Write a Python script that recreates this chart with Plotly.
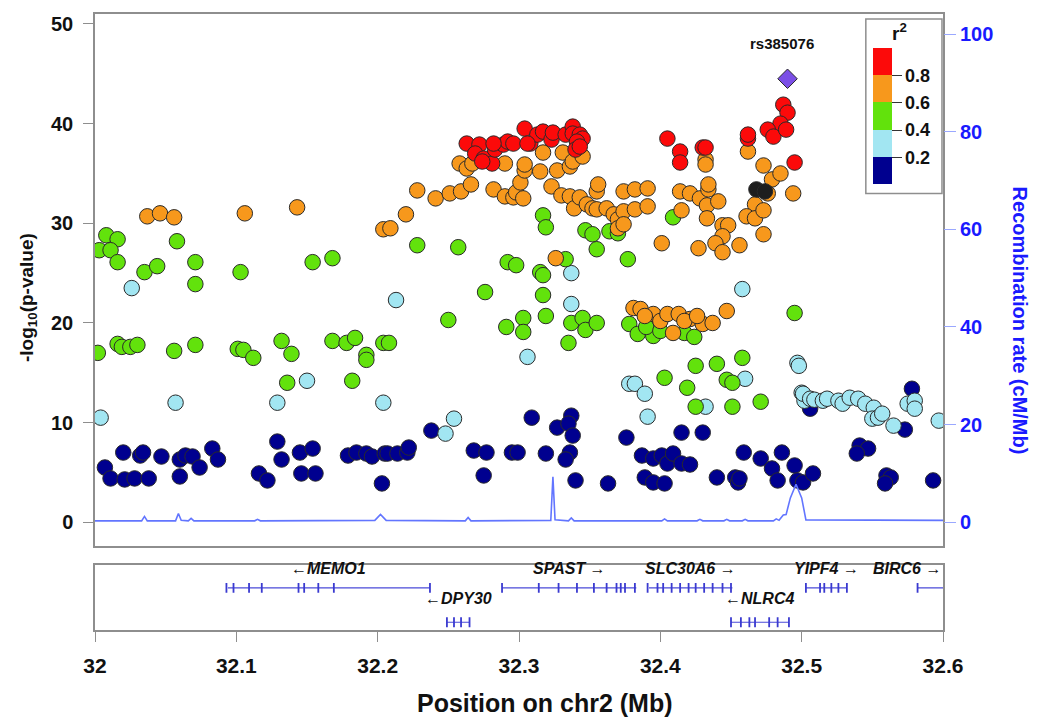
import plotly.graph_objects as go

# ---------------- data ----------------
navy_pos = [32.007, 32.011, 32.020, 32.021, 32.028, 32.032, 32.034, 32.038, 32.047, 32.060,
            32.060, 32.064, 32.069, 32.074, 32.083, 32.087, 32.116, 32.122, 32.129, 32.132,
            32.145, 32.154, 32.146, 32.156, 32.179, 32.185, 32.192, 32.196, 32.203, 32.205,
            32.207, 32.214, 32.221, 32.222, 32.238, 32.268, 32.277, 32.275, 32.295, 32.299,
            32.309, 32.319, 32.327, 32.337, 32.335, 32.338, 32.336, 32.333, 32.340, 32.363,
            32.376, 32.387, 32.395, 32.401, 32.405, 32.409, 32.415, 32.421, 32.389, 32.395,
            32.403, 32.415, 32.430, 32.440, 32.453, 32.455, 32.456, 32.459, 32.471, 32.479,
            32.483, 32.486, 32.495, 32.497, 32.501, 32.508, 32.506, 32.541, 32.547, 32.539,
            32.560, 32.563, 32.559, 32.578, 32.573, 32.593]
navy_logp = [5.5, 4.4, 7.0, 4.3, 4.4, 6.7, 7.0, 4.4, 6.6, 6.3,
             4.6, 6.7, 6.6, 5.5, 7.4, 6.3, 4.9, 4.2, 8.1, 6.3,
             7.0, 7.4, 4.9, 4.9, 6.7, 7.0, 6.9, 6.6, 3.9, 6.9,
             6.9, 6.9, 7.0, 7.5, 9.2, 7.2, 7.0, 4.7, 7.0, 7.0,
             10.5, 6.9, 9.5, 10.7, 9.9, 8.7, 7.0, 6.3, 4.2, 3.9,
             8.5, 6.7, 6.4, 6.7, 5.9, 6.9, 5.9, 5.8, 4.5, 4.0,
             3.9, 9.0, 9.0, 4.5, 4.5, 4.0, 4.4, 7.0, 6.4, 5.4,
             4.2, 7.0, 5.7, 4.2, 4.0, 4.9, 11.4, 7.7, 7.4, 6.9,
             4.7, 4.5, 3.9, 13.4, 9.3, 4.2]

lblue_pos = [32.026, 32.057, 32.004, 32.129, 32.150, 32.204, 32.213, 32.337, 32.337, 32.306,
             32.254, 32.248, 32.378, 32.458, 32.382, 32.389, 32.391, 32.432, 32.460, 32.497,
             32.498, 32.500, 32.502, 32.501, 32.506, 32.509, 32.515, 32.518, 32.526, 32.529,
             32.534, 32.540, 32.545, 32.551, 32.550, 32.554, 32.557, 32.565, 32.575, 32.580,
             32.580, 32.597]
lblue_logp = [23.5, 12.0, 10.5, 12.0, 14.2, 12.0, 22.3, 25.0, 21.9, 16.6,
              10.4, 8.9, 13.9, 23.4, 13.9, 12.9, 10.6, 11.6, 14.4, 16.0,
              15.7, 13.0, 12.2, 12.9, 12.4, 12.3, 12.2, 12.4, 12.2, 11.9,
              12.5, 12.4, 11.9, 11.5, 10.4, 10.5, 10.9, 9.7, 11.9, 12.2,
              11.4, 10.2]

green_pos = [32.008, 32.016, 32.003, 32.011, 32.016, 32.035, 32.044, 32.058, 32.071, 32.071,
             32.103, 32.154, 32.168, 32.002, 32.016, 32.019, 32.025, 32.030, 32.056, 32.071,
             32.101, 32.105, 32.112, 32.132, 32.139, 32.136, 32.168, 32.178, 32.184, 32.192,
             32.192, 32.182, 32.204, 32.228, 32.257, 32.317, 32.319, 32.292, 32.298, 32.315,
             32.317, 32.333, 32.276, 32.317, 32.347, 32.352, 32.355, 32.364, 32.370, 32.377,
             32.250, 32.208, 32.291, 32.303, 32.303, 32.319, 32.337, 32.345, 32.347, 32.355,
             32.335, 32.378, 32.409, 32.495, 32.384, 32.395, 32.417, 32.424, 32.425, 32.440,
             32.458, 32.403, 32.419, 32.447, 32.451, 32.425, 32.451, 32.471, 32.390, 32.400]
green_logp = [28.8, 28.4, 27.3, 27.3, 26.1, 25.1, 25.7, 28.2, 26.1, 23.9,
              25.1, 26.1, 26.5, 17.0, 17.9, 17.6, 17.6, 17.8, 17.2, 17.8,
              17.4, 17.3, 16.5, 18.2, 16.9, 14.0, 18.2, 18.0, 18.5, 16.8,
              16.3, 14.2, 18.0, 27.8, 27.6, 30.8, 29.6, 26.1, 25.8, 25.1,
              24.8, 26.4, 23.1, 22.8, 29.3, 28.9, 27.4, 29.2, 29.0, 26.4,
              20.3, 18.0, 19.6, 20.5, 19.1, 20.7, 20.0, 20.5, 19.3, 20.0,
              18.0, 19.9, 30.6, 21.0, 18.9, 18.7, 19.0, 18.6, 15.7, 15.9,
              16.5, 14.5, 13.5, 14.3, 14.0, 11.6, 11.6, 12.1, 19.6, 19.2]

orange_pos = [32.037, 32.046, 32.056, 32.106, 32.143, 32.204, 32.209, 32.220, 32.228, 32.241,
              32.251, 32.259, 32.266, 32.282, 32.290, 32.296, 32.298, 32.303, 32.301, 32.304,
              32.304, 32.258, 32.263, 32.267, 32.290, 32.315, 32.317, 32.323, 32.327, 32.331,
              32.330, 32.336, 32.339, 32.343, 32.348, 32.352, 32.355, 32.356, 32.336, 32.338,
              32.345, 32.355, 32.362, 32.367, 32.370, 32.374, 32.374, 32.370, 32.326, 32.382,
              32.391, 32.382, 32.391, 32.374, 32.415, 32.414, 32.421, 32.428, 32.434, 32.434,
              32.433, 32.441, 32.433, 32.401, 32.427, 32.444, 32.448, 32.444, 32.439, 32.444,
              32.456, 32.432, 32.432, 32.462, 32.473, 32.479, 32.485, 32.476, 32.467, 32.461,
              32.467, 32.473, 32.473, 32.494, 32.381, 32.386, 32.395, 32.400, 32.405, 32.409,
              32.413, 32.421, 32.430, 32.437, 32.447, 32.389, 32.417, 32.426]
orange_logp = [30.7, 31.0, 30.6, 31.0, 31.6, 29.4, 29.5, 30.9, 33.3, 32.5,
               33.0, 33.2, 33.9, 33.4, 32.7, 32.6, 33.1, 32.5, 34.1, 35.3,
               35.9, 36.0, 35.5, 36.0, 36.0, 35.2, 37.1, 33.7, 35.3, 37.1,
               32.8, 32.7, 31.5, 32.6, 31.9, 31.5, 33.2, 33.9, 35.7, 36.2,
               36.7, 31.4, 31.5, 30.9, 30.4, 31.2, 33.2, 29.5, 26.5, 33.4,
               33.5, 31.4, 31.7, 29.9, 31.3, 33.2, 33.0, 32.5, 33.4, 33.9,
               31.8, 32.2, 30.5, 28.0, 27.5, 29.8, 29.8, 28.7, 28.0, 27.1,
               27.8, 36.4, 35.9, 37.2, 35.8, 34.4, 35.0, 33.0, 31.9, 30.7,
               30.5, 31.3, 28.9, 33.0, 21.5, 21.4, 20.9, 20.2, 20.9, 19.0,
               20.9, 20.4, 19.9, 20.0, 21.2, 20.7, 20.2, 20.7]

red_pos = [32.263, 32.272, 32.269, 32.275, 32.281, 32.274, 32.283, 32.289, 32.292, 32.296,
           32.304, 32.308, 32.313, 32.317, 32.323, 32.324, 32.333, 32.338, 32.338, 32.343,
           32.345, 32.341, 32.340, 32.343, 32.306, 32.282, 32.405, 32.414, 32.414, 32.430,
           32.432, 32.462, 32.462, 32.487, 32.490, 32.485, 32.476, 32.480, 32.489, 32.495]
red_logp = [38.0, 37.9, 37.0, 36.5, 36.0, 36.2, 37.4, 37.9, 38.2, 38.0,
            39.5, 38.0, 38.9, 39.2, 38.4, 39.1, 38.9, 39.7, 39.0, 38.9,
            38.5, 38.2, 37.4, 37.7, 38.0, 38.0, 38.5, 37.2, 36.1, 37.6,
            37.6, 38.5, 38.9, 41.9, 41.1, 40.0, 39.4, 38.7, 39.4, 36.1]

black_pos = [32.468, 32.474]
black_logp = [33.4, 33.2]

lead_snp = "rs385076"
lead_pos = [32.490]
lead_logp = [44.5]

rec_pos = [32.000, 32.033, 32.035, 32.037, 32.057, 32.059, 32.061, 32.066, 32.068, 32.070,
           32.113, 32.115, 32.117, 32.198, 32.202, 32.206, 32.262, 32.264, 32.266, 32.3225,
           32.324, 32.3255, 32.335, 32.337, 32.339, 32.401, 32.403, 32.405, 32.426, 32.428,
           32.430, 32.445, 32.447, 32.449, 32.458, 32.460, 32.462, 32.480, 32.482, 32.484,
           32.487, 32.489, 32.492, 32.496, 32.500, 32.503, 32.600]
rec_rate = [0.3, 0.3, 1.2, 0.3, 0.3, 1.8, 0.4, 0.3, 0.8, 0.3,
            0.3, 0.6, 0.3, 0.4, 1.6, 0.4, 0.3, 1.0, 0.3, 0.4,
            9.3, 0.5, 0.3, 0.9, 0.3, 0.3, 0.7, 0.3, 0.3, 0.6,
            0.3, 0.3, 0.6, 0.3, 0.3, 0.6, 0.3, 0.3, 0.7, 0.4,
            1.5, 1.6, 5.0, 7.8, 5.0, 0.5, 0.4]

gene_names = ["MEMO1", "DPY30", "SPAST", "SLC30A6", "NLRC4", "YIPF4", "BIRC6"]
gene_start = [32.094, 32.249, 32.288, 32.392, 32.450, 32.503, 32.582]
gene_end = [32.237, 32.265, 32.383, 32.451, 32.491, 32.532, 32.650]
gene_strand = ["-", "-", "+", "+", "-", "+", "+"]
gene_row = [1, 2, 1, 1, 2, 1, 1]
gene_exons = [
    [32.093, 32.098, 32.109, 32.118, 32.144, 32.148, 32.158, 32.169, 32.237],
    [32.249, 32.254, 32.259, 32.265],
    [32.288, 32.314, 32.328, 32.341, 32.353, 32.362, 32.369, 32.372, 32.375, 32.382],
    [32.391, 32.398, 32.402, 32.408, 32.414, 32.420, 32.425, 32.431, 32.437, 32.444, 32.450],
    [32.450, 32.457, 32.463, 32.467, 32.477, 32.483, 32.491],
    [32.503, 32.513, 32.516, 32.521, 32.526, 32.532],
    [32.582],
]

x_ticks = [32.0, 32.1, 32.2, 32.3, 32.4, 32.5, 32.6]
x_ticktext = ["32", "32.1", "32.2", "32.3", "32.4", "32.5", "32.6"]
legend_ticks = [0.2, 0.4, 0.6, 0.8]

# ---------------- styles ----------------
C_NAVY = "#00008f"
C_LBLUE = "#a2e6f2"
C_GREEN = "#62e20c"
C_ORANGE = "#f7981c"
C_RED = "#fc0a0a"
C_BLACK = "#1e1e1e"
C_LEAD = "#7b4fe6"
FRAME = "#8e8e8e"
FONT = "Liberation Sans, Arial, sans-serif"

fig = go.Figure()

# recombination rate line (secondary axis)
fig.add_trace(go.Scatter(x=rec_pos, y=rec_rate, mode="lines", yaxis="y3", xaxis="x",
                         line=dict(color="#6275ff", width=1.6), hoverinfo="skip",
                         showlegend=False))

def add_points(px, py, color, symbol="circle", size=15.5):
    fig.add_trace(go.Scatter(x=px, y=py, mode="markers", xaxis="x", yaxis="y",
                             marker=dict(color=color, size=size, symbol=symbol,
                                         line=dict(color="#2a2a2a", width=1)),
                             showlegend=False))

add_points(navy_pos, navy_logp, C_NAVY)
add_points(lblue_pos, lblue_logp, C_LBLUE)
add_points(green_pos, green_logp, C_GREEN)
add_points(orange_pos, orange_logp, C_ORANGE)
add_points(black_pos, black_logp, C_BLACK)
add_points(red_pos, red_logp, C_RED)
add_points(lead_pos, lead_logp, C_LEAD, symbol="diamond", size=15)

# r^2 legend as a discrete colorbar (box drawn as a paper shape)
cs = [[0.0, C_NAVY], [0.2, C_NAVY], [0.2, C_LBLUE], [0.4, C_LBLUE],
      [0.4, C_GREEN], [0.6, C_GREEN], [0.6, C_ORANGE], [0.8, C_ORANGE],
      [0.8, C_RED], [1.0, C_RED]]
fig.add_trace(go.Scatter(x=[None], y=[None], mode="markers", xaxis="x", yaxis="y",
                         showlegend=False, hoverinfo="skip",
                         marker=dict(color=[0.5], colorscale=cs, cmin=0, cmax=1,
                                     showscale=True,
                                     colorbar=dict(
                                         x=0.9175, xanchor="left", xpad=0,
                                         y=0.7233, yanchor="bottom", ypad=0,
                                         len=136, lenmode="pixels",
                                         thickness=19, thicknessmode="pixels",
                                         tickvals=legend_ticks, ticktext=[str(t) for t in legend_ticks],
                                         ticks="outside", ticklen=10, tickcolor="#333", tickwidth=1,
                                         tickfont=dict(family=FONT, size=18, weight="bold", color="#111"),
                                         outlinewidth=0, bgcolor="rgba(0,0,0,0)",
                                         borderwidth=0))))

shapes = [dict(type="rect", xref="paper", yref="paper", x0=0.909, x1=0.9988,
               y0=0.7087, y1=0.9919, line=dict(color=FRAME, width=1.5),
               fillcolor="white", layer="below")]

# gene track
row_y = {1: 0.65, 2: 0.12}
label_y = {1: 0.79, 2: 0.33}
annotations = []
for name, s, e, strand, row, exons in zip(gene_names, gene_start, gene_end, gene_strand,
                                          gene_row, gene_exons):
    fig.add_trace(go.Scatter(x=[s, e], y=[row_y[row], row_y[row]], mode="lines",
                             xaxis="x2", yaxis="y2", line=dict(color="#4a4ad8", width=1.2),
                             hoverinfo="skip", showlegend=False))
    fig.add_trace(go.Scatter(x=exons, y=[row_y[row]] * len(exons), mode="markers",
                             xaxis="x2", yaxis="y2", hoverinfo="skip", showlegend=False,
                             marker=dict(symbol="line-ns", size=7,
                                         line=dict(color="#3a3ad0", width=1.8))))
    text = ("\u2190" + name) if strand == "-" else (name + " \u2192")
    if e > 32.6:
        ax, anchor = 32.6, "right"
    else:
        ax, anchor = (s + e) / 2, "center"
    annotations.append(dict(x=ax, y=label_y[row], xref="x2", yref="y2", text=text,
                            showarrow=False, xanchor=anchor, yanchor="bottom",
                            font=dict(family=FONT, size=16, weight="bold", style="italic",
                                      color="#111")))

# lead SNP label
annotations.append(dict(x=lead_pos[0], y=lead_logp[0], xref="x", yref="y", text=lead_snp,
                        showarrow=False, yshift=35, xshift=-6,
                        font=dict(family=FONT, size=15, weight="bold", color="#111")))
# legend title
annotations.append(dict(x=0.949, y=0.971, xref="paper", yref="paper",
                        text="r<sup>2</sup>", showarrow=False, xanchor="center", yanchor="middle",
                        font=dict(family=FONT, size=19, weight="bold", color="#111")))
# axis titles
annotations.append(dict(x=-0.079, y=0.539, xref="paper", yref="paper",
                        xanchor="center", yanchor="middle",
                        text="-log<sub>10</sub>(p-value)", textangle=-90, showarrow=False,
                        font=dict(family=FONT, size=19, weight="bold", color="#111")))
annotations.append(dict(x=1.091, y=0.502, xref="paper", yref="paper",
                        xanchor="center", yanchor="middle",
                        text="Recombination rate (cM/Mb)", textangle=90, showarrow=False,
                        font=dict(family=FONT, size=20, weight="bold", color="#1a1aff")))
annotations.append(dict(x=0.531, y=-0.118, xref="paper", yref="paper",
                        xanchor="center", yanchor="middle",
                        text="Position on chr2 (Mb)", showarrow=False,
                        font=dict(family=FONT, size=25, weight="bold", color="#111")))

fig.update_layout(
    width=1052, height=719,
    margin=dict(l=95, r=109, t=12, b=89),
    paper_bgcolor="white", plot_bgcolor="white",
    showlegend=False,
    annotations=annotations,
    shapes=shapes,
    xaxis=dict(domain=[0, 1], range=[32.0, 32.6], anchor="y", showticklabels=False,
               ticks="", showgrid=False, zeroline=False, showline=True, mirror=True,
               linecolor=FRAME, linewidth=1.5),
    yaxis=dict(domain=[0.136, 1], range=[-2.4, 51.0], anchor="x",
               tickvals=[0, 10, 20, 30, 40, 50], ticks="outside", ticklen=10,
               tickcolor=FRAME, tickwidth=1, showgrid=False, zeroline=False,
               showline=True, mirror=True, linecolor=FRAME, linewidth=1.5,
               ticklabelstandoff=6,
               tickfont=dict(family=FONT, size=20, weight="bold", color="#111")),
    yaxis3=dict(overlaying="y", side="right", anchor="x", range=[-4.9, 104.1],
                tickvals=[0, 20, 40, 60, 80, 100], ticks="outside", ticklen=12,
                tickcolor="#9aa8ff", tickwidth=1, showgrid=False, zeroline=False,
                showline=False,
                tickfont=dict(family=FONT, size=20, weight="bold", color="#1a1aff")),
    xaxis2=dict(domain=[0, 1], range=[32.0, 32.6], anchor="y2",
                tickvals=x_ticks, ticktext=x_ticktext, ticks="outside", ticklen=10,
                tickcolor=FRAME, tickwidth=1, showgrid=False, zeroline=False,
                showline=True, mirror=True, linecolor=FRAME, linewidth=1.5,
                ticklabelstandoff=6,
                tickfont=dict(family=FONT, size=21, weight="bold", color="#111")),
    yaxis2=dict(domain=[0, 0.105], range=[0, 1], anchor="x2", showticklabels=False,
                ticks="", showgrid=False, zeroline=False, showline=True, mirror=True,
                linecolor=FRAME, linewidth=1.5),
)

fig.write_html("out.html")
